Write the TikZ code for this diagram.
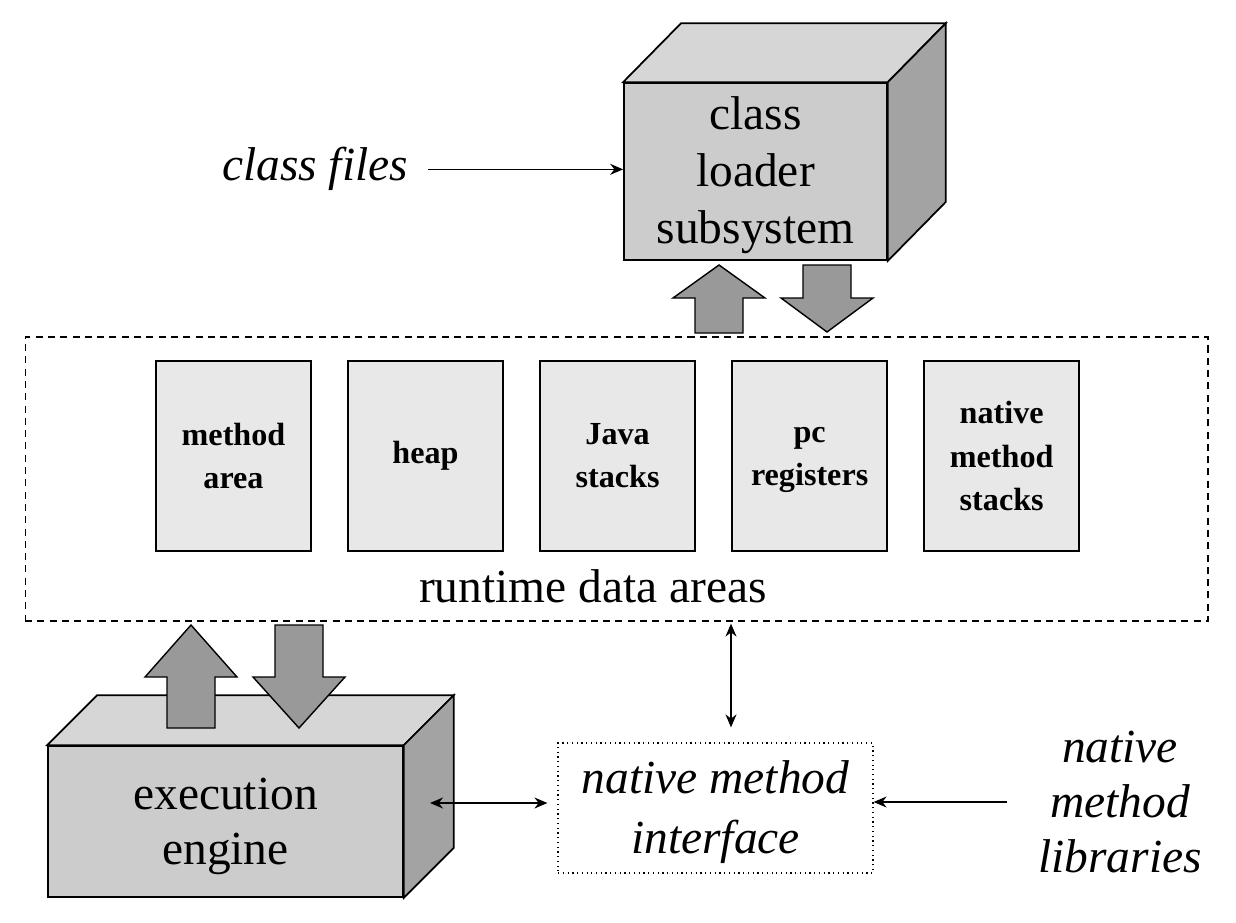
\documentclass[tikz,border=0pt]{standalone}
\usepackage{fontspec}
\setmainfont{Liberation Serif}
\usetikzlibrary{arrows.meta,positioning}
\newcommand{\upblock}[4]{\path[blockarrow] (#1-24,#4) -- (#1-24,#3) -- (#1-46,#3) -- (#1,#2) -- (#1+46,#3) -- (#1+24,#3) -- (#1+24,#4) -- cycle;}
\newcommand{\downblock}[4]{\path[blockarrow] (#1-24,#2) -- (#1-24,#3) -- (#1-46,#3) -- (#1,#4) -- (#1+46,#3) -- (#1+24,#3) -- (#1+24,#2) -- cycle;}

\begin{document}
\begin{tikzpicture}[x=0.02cm,y=-0.02cm,>={Stealth[length=2.6mm,width=2.2mm]},
  bigtext/.style={font=\fontsize{27}{32.5}\selectfont,align=center,inner sep=0pt},
  bigital/.style={font=\itshape\fontsize{27}{32}\selectfont,align=center,inner sep=0pt},
  front/.style={draw,line width=1pt,fill=black!20,inner sep=0pt},
  topface/.style={draw,line width=1pt,fill=black!16},
  sideface/.style={draw,line width=1pt,fill=black!36},
  area/.style={draw,line width=0.9pt,fill=black!9,minimum width=3.1cm,minimum height=3.8cm,inner sep=0pt,
    font=\bfseries\fontsize{18.3}{24.5}\selectfont,align=center},
  blockarrow/.style={draw,line width=0.8pt,fill=black!40},
  thin/.style={line width=0.8pt}]
\useasboundingbox (0,0) rectangle (1236,922);
\node[front,minimum width=5.26cm,minimum height=3.54cm] (cl) at (755.5,171.5) {};
\node[bigtext] (cltext) at ([yshift=-0.07cm]cl.center) {class\\loader\\subsystem};
\path[topface] (cl.north west) -- ++(58,-59) -- ([shift={(58,-59)}]cl.north east) -- (cl.north east) -- cycle;
\path[sideface] (cl.north east) -- ++(58,-59) -- ([shift={(58,-59)}]cl.south east) -- (cl.south east) -- cycle;
\node[bigital,anchor=base] (cfiles) at (315,181) {class files};
\draw[thin,->,shorten <=0.4cm] (cfiles.east) -- (cfiles.east -| cl.west);
\upblock{719}{265}{298}{333}
\downblock{827}{265}{298}{332}
\node[draw,dashed,line width=0.7pt,dash pattern=on 4pt off 3pt,minimum width=23.66cm,minimum height=5.68cm] (rda) at (616.5,479) {};
\node[area] (marea) at (233.5,456) {method\\area};
\node[area,right=0.71cm of marea] (heap) {heap};
\node[area,right=0.71cm of heap] (jstacks) {Java\\stacks};
\node[area,right=0.71cm of jstacks] (pcreg) {pc\vphantom{h}\\registers};
\node[area,right=0.71cm of pcreg] (nmstacks) {native\\method\\stacks};
\node[bigtext] (rdalabel) at (593,586) {runtime data areas};
\node[front,minimum width=7.1cm,minimum height=3.02cm] (ee) at (225.5,821.5) {};
\node[bigtext,font=\fontsize{27}{31.5}\selectfont] (eetext) at ([yshift=-0.1cm]ee.center) {execution\\engine};
\path[topface] (ee.north west) -- ++(50,-50) -- ([shift={(50,-50)}]ee.north east) -- (ee.north east) -- cycle;
\path[sideface] (ee.north east) -- ++(50,-50) -- ([shift={(50,-50)}]ee.south east) -- (ee.south east) -- cycle;
\upblock{191}{625}{677}{728}
\downblock{299}{625}{677}{728}
\node[draw,dotted,line width=0.7pt,minimum width=6.3cm,minimum height=2.6cm] (nmi) at (715.5,808) {};
\node[bigital,font=\itshape\fontsize{27}{34}\selectfont] (nmitext) at ([yshift=-0.08cm]nmi.center) {native method\\interface};
\node[bigital,font=\itshape\fontsize{27}{31.5}\selectfont] (libs) at (1120,802) {native\\method\\libraries};
\coordinate (eeside) at (430,803);
\draw[thin,<->,shorten >=0.2cm] (eeside) -- (eeside -| nmi.west);
\draw[thin,->,shorten <=0.62cm] (libs.west) -- (libs.west -| nmi.east);
\draw[thin,<->] ([xshift=0.31cm,yshift=-0.04cm]rda.south -| nmi.north) -- ([xshift=0.31cm,yshift=0.3cm]nmi.north);
\end{tikzpicture}
\end{document}
